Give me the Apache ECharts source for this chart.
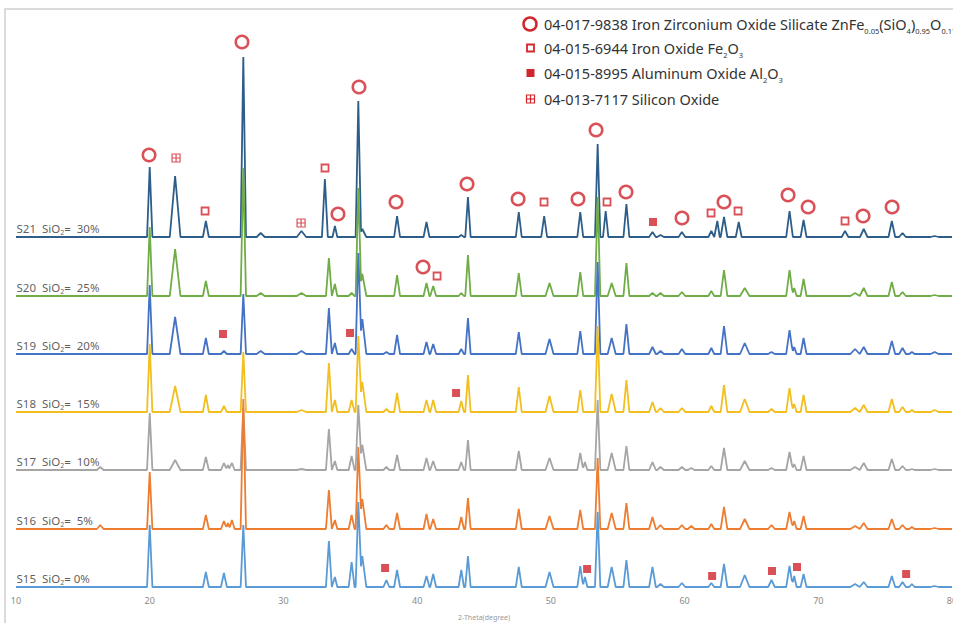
<!DOCTYPE html>
<html><head><meta charset="utf-8">
<script src="https://cdn.jsdelivr.net/npm/echarts@6/dist/echarts.min.js"></script>
<style>html,body{margin:0;padding:0;background:#fff}#c{width:953px;height:623px}</style>
</head><body><div id="c"></div>
<script>
// Peak positions (2-theta, degree) and half widths at the base (degree)
const twoTheta = [16.3,20.0,21.9,24.2,25.55,25.85,26.15,27.0,28.3,31.35,33.1,33.4,33.85,35.1,35.6,35.9,37.7,38.5,40.7,41.2,43.3,43.8,47.6,49.5,49.9,52.2,52.55,53.5,54.1,54.55,55.65,57.6,58.2,59.8,60.5,62.0,62.45,62.95,64.05,64.5,66.5,67.85,68.2,68.9,72.0,72.75,73.4,75.5,76.3,77.0,78.7];
const halfWidth = [0.25,0.2,0.4,0.22,0.22,0.15,0.2,0.2,0.3,0.35,0.22,0.22,0.18,0.22,0.2,0.3,0.22,0.22,0.22,0.22,0.2,0.2,0.22,0.22,0.3,0.22,0.18,0.2,0.2,0.3,0.22,0.25,0.25,0.25,0.25,0.22,0.18,0.25,0.22,0.35,0.25,0.25,0.18,0.22,0.25,0.35,0.28,0.25,0.25,0.2,0.3];

// Peak heights per sample (same order as twoTheta)
const s21 = [0,70,61,16,0,0,0,180,4,6,58,0,11,0,136,8,0,21,15,0,2,40,25,21,0,25,0,93,26,0,33,5,2,5,0,6,16,20,15,0,0,26,0,17,6,0,8,16,4,0,1];
const s20 = [0,69,47,15,0,0,0,128,3,3,0,38,12,3,108,22,0,21,13,10,3,41,23,0,13,24,0,99,0,13,33,3,3,4,0,5,0,26,0,8,0,26,8,17,0,3,8,14,4,0,1];
const s19 = [0,69,37,16,3,0,0,60,3,3,0,46,11,5,101,35,2,19,12,10,5,36,22,0,15,23,0,92,0,16,30,7,3,5,0,6,0,28,0,11,2,24,7,16,0,5,7,13,6,2,2];
const s18 = [0,68,26,17,6,0,0,60,0,2,0,49,12,12,76,30,3,19,12,12,11,37,25,0,16,22,0,86,0,18,32,10,4,4,0,6,0,27,0,13,3,24,8,17,0,4,7,13,5,2,2];
const s17 = [3,57,10,13,7,5,7,62,0,1,0,41,9,14,65,25,3,15,12,9,8,30,19,0,12,17,8,70,0,17,24,8,3,3,2,4,0,22,0,9,2,18,6,14,0,3,7,11,4,1,1];
const s16 = [4,57,0,14,8,6,9,130,0,0,0,39,9,14,82,30,4,16,15,10,12,31,20,0,13,19,0,71,0,16,26,12,4,4,3,5,0,22,0,10,4,17,8,13,0,3,6,10,4,2,1];
const s15 = [0,62,0,15,14,0,0,62,0,0,0,46,10,25,85,31,7,17,11,13,17,31,20,0,15,21,10,75,0,20,27,20,3,4,0,4,0,23,0,12,7,21,11,13,0,3,5,11,5,3,1];

const sampleNames = ['S21','S20','S19','S18','S17','S16','S15'];
const sio2Content = ['30%','25%','20%','15%','10%','5%','0%'];
const traceOffset = [353,294,236,178,120,61,3];
const traceColors = ['#2d5d89','#70ad47','#4472c4','#f2bf1f','#a5a5a5','#ed7d31','#5b9bd5'];
const heightsAll = [s21,s20,s19,s18,s17,s16,s15];

// Phase markers [2-theta, position]
const zirconMarks = [[19.95,435],[26.9,548],[34.08,376],[35.65,503],[38.42,388],[43.73,406],[47.55,391],[52.03,391],[53.38,460],[55.62,398],[59.81,372],[62.95,388],[67.74,395],[69.24,383],[73.35,374],[75.52,383],[40.44,323]];
const hematiteMarks = [[24.14,379],[33.11,422],[49.49,388],[54.2,388],[61.98,377],[64.0,379],[72.0,369],[41.49,314]];
const aluminaMarks = [[57.64,368],[25.48,256],[34.98,257],[42.91,197],[37.6,22],[52.71,21],[62.06,14],[66.54,19],[68.41,23],[76.57,16]];
const silicaMarks = [[21.97,432],[31.32,367]];

const xTicks = [10,20,30,40,50,60,70,80];

function buildTrace(h, off) {
  let xs = [10, 80];
  twoTheta.forEach((p, i) => { if (h[i] > 0) xs.push(p - halfWidth[i], p, p + halfWidth[i]); });
  xs = Array.from(new Set(xs.map(v => +v.toFixed(3)))).sort((a, b) => a - b);
  return xs.map(x => {
    let y = 0;
    twoTheta.forEach((p, i) => {
      if (h[i] > 0) { const d = Math.abs(x - p); if (d < halfWidth[i]) y += h[i] * (1 - d / halfWidth[i]); }
    });
    return [x, off + y];
  });
}

const RED = '#d0262d';
const series = [];
heightsAll.forEach((h, k) => {
  series.push({
    type: 'line', name: sampleNames[k], data: buildTrace(h, traceOffset[k]),
    showSymbol: false, symbol: 'none', animation: false,
    lineStyle: { color: traceColors[k], width: 1.8 }, z: 2
  });
});
series.push({
  type: 'scatter', animation: false, z: 5, symbolSize: 1,
  itemStyle: { color: 'rgba(0,0,0,0)' },
  data: sampleNames.map((n, k) => ({ value: [10, traceOffset[k] + 9], name: n, content: sio2Content[k] })),
  label: {
    show: true, position: 'right', distance: 0,
    formatter: p => p.name + '  SiO{s|2}= ' + (p.data.content === '0%' ? '' : ' ') + p.data.content,
    fontFamily: 'Noto Sans', fontSize: 11.5, color: '#333', lineHeight: 16,
    rich: { s: { fontSize: 7, verticalAlign: 'bottom', color: '#333', lineHeight: 16, fontFamily: 'Noto Sans' } }
  }
});
series.push({ type: 'scatter', animation: false, z: 6, data: zirconMarks, symbol: 'circle', symbolSize: 12.5,
  itemStyle: { color: 'rgba(0,0,0,0)', borderColor: RED, borderWidth: 2.5 } });
series.push({ type: 'scatter', animation: false, z: 6, data: hematiteMarks, symbol: 'rect', symbolSize: 7,
  itemStyle: { color: 'rgba(0,0,0,0)', borderColor: RED, borderWidth: 1.8 } });
series.push({ type: 'scatter', animation: false, z: 6, data: aluminaMarks, symbol: 'rect', symbolSize: 8,
  itemStyle: { color: RED } });
series.push({ type: 'scatter', animation: false, z: 6, data: silicaMarks, symbol: 'path://M0,0H10V10H0ZM5,0V10M0,5H10', symbolSize: 8,
  itemStyle: { color: 'rgba(0,0,0,0)', borderColor: RED, borderWidth: 1.2 } });

const legendRows = [
  { y: 24, text: '04-017-9838 Iron Zirconium Oxide Silicate ZnFe{s|0.05}(SiO{s|4}){s|0.95}O{s|0.175}' },
  { y: 48, text: '04-015-6944 Iron Oxide Fe{s|2}O{s|3}' },
  { y: 73, text: '04-015-8995 Aluminum Oxide Al{s|2}O{s|3}' },
  { y: 99, text: '04-013-7117 Silicon Oxide' }
];
const richLegend = { s: { fontSize: 7.5, verticalAlign: 'bottom', lineHeight: 21, fontFamily: 'Noto Sans', fill: '#333' } };
const graphic = [
  { type: 'rect', shape: { x: 5, y: 9, width: 1000, height: 700 }, style: { fill: 'none', stroke: '#cfcfcf', lineWidth: 1.5 }, z: 0, silent: true },
  { type: 'circle', shape: { cx: 530, cy: legendRows[0].y, r: 6.5 }, style: { fill: 'none', stroke: RED, lineWidth: 2.5 }, z: 10 },
  { type: 'rect', shape: { x: 527, y: legendRows[1].y - 3.5, width: 7, height: 7 }, style: { fill: 'none', stroke: RED, lineWidth: 1.8 }, z: 10 },
  { type: 'rect', shape: { x: 526.5, y: legendRows[2].y - 4, width: 8, height: 8 }, style: { fill: RED }, z: 10 },
  { type: 'rect', shape: { x: 526.5, y: legendRows[3].y - 4, width: 8, height: 8 }, style: { fill: 'none', stroke: RED, lineWidth: 1.2 }, z: 10 },
  { type: 'line', shape: { x1: 530.5, y1: legendRows[3].y - 4, x2: 530.5, y2: legendRows[3].y + 4 }, style: { stroke: RED, lineWidth: 1.2 }, z: 10 },
  { type: 'line', shape: { x1: 526.5, y1: legendRows[3].y, x2: 534.5, y2: legendRows[3].y }, style: { stroke: RED, lineWidth: 1.2 }, z: 10 }
];
legendRows.forEach(r => {
  graphic.push({ type: 'text', x: 544, y: r.y, z: 10, style: {
    text: r.text, fill: '#333', fontSize: 14.5, fontFamily: 'Noto Sans', verticalAlign: 'middle', lineHeight: 21, rich: richLegend } });
});

const chart = echarts.init(document.getElementById('c'), null, { renderer: 'svg', width: 953, height: 623 });
chart.setOption({
  backgroundColor: '#fff',
  animation: false,
  grid: { left: 16, right: 1, top: 9, bottom: 33, containLabel: false, outerBoundsMode: 'none' },
  xAxis: {
    type: 'value', min: xTicks[0], max: xTicks[xTicks.length - 1], interval: 10,
    axisLine: { show: false }, axisTick: { show: false }, splitLine: { show: false },
    axisLabel: { color: '#8a8a8a', fontSize: 9, margin: 6, fontFamily: 'Noto Sans', showMaxLabel: true, showMinLabel: true },
    name: '2-Theta(degree)', nameLocation: 'middle', nameGap: 24,
    nameTextStyle: { color: '#999', fontSize: 7, fontFamily: 'Noto Sans' }
  },
  yAxis: { type: 'value', min: 0, max: 581, show: false, splitLine: { show: false } },
  series: series,
  graphic: graphic
});
</script></body></html>
